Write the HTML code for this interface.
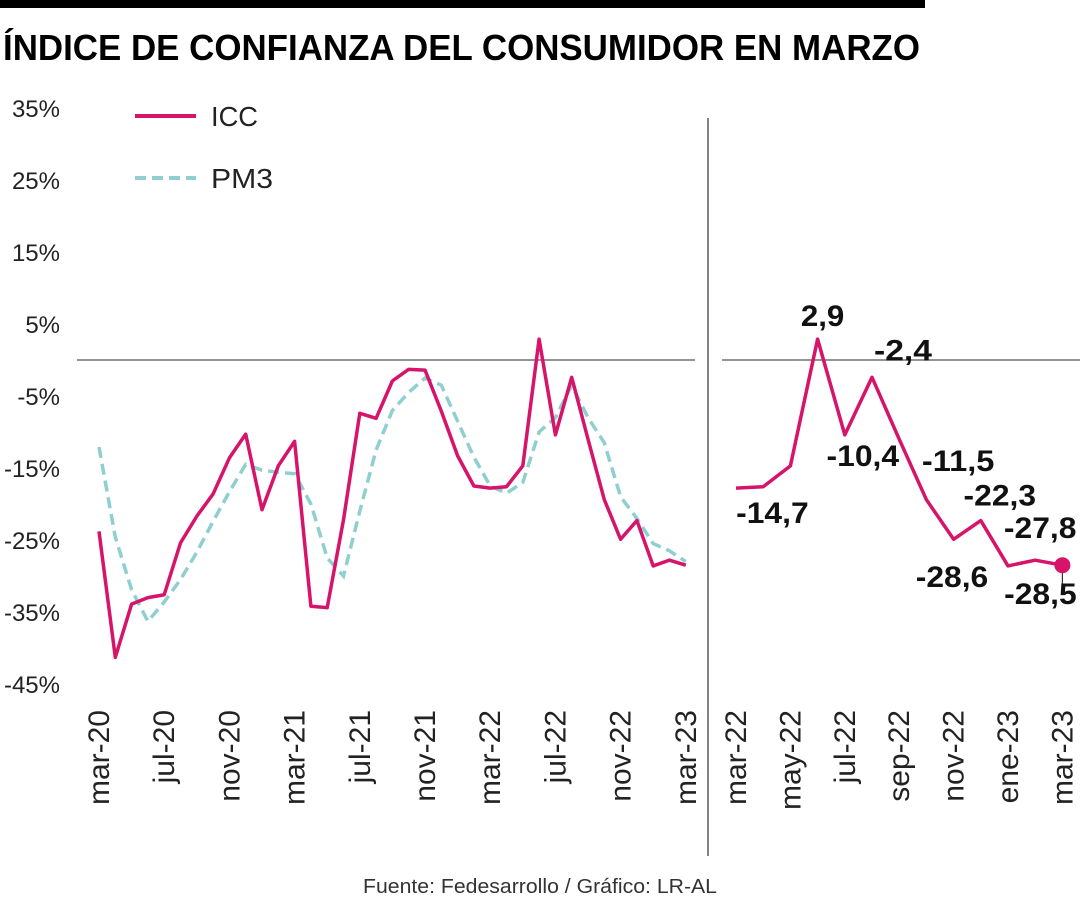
<!DOCTYPE html>
<html><head><meta charset="utf-8"><style>
html,body{margin:0;padding:0;background:#fff;}
svg{display:block;font-family:"Liberation Sans Narrow","Liberation Sans",sans-serif;}
</style></head><body>
<svg id="chart" width="1080" height="900" viewBox="0 0 1080 900">
<rect x="0" y="0" width="925" height="8" fill="#000"/>
<text x="3" y="60" font-size="36" font-weight="bold" textLength="917" lengthAdjust="spacingAndGlyphs" fill="#000">ÍNDICE DE CONFIANZA DEL CONSUMIDOR EN MARZO</text>
<line x1="708" y1="118" x2="708" y2="856" stroke="#333" stroke-width="1.2"/>
<g id="yaxis"></g>
<g id="left"></g>
<g id="right"></g>
<g>
<g>
<line x1="135" y1="116" x2="196" y2="116" stroke="#d6146a" stroke-width="4"/>
<text x="211" y="126" font-size="28" textLength="47" lengthAdjust="spacingAndGlyphs" fill="#222">ICC</text></g>
<g>
<line x1="135" y1="178" x2="196" y2="178" stroke="#8fcfd0" stroke-width="4" stroke-dasharray="11,6"/>
<text x="211" y="188" font-size="28" textLength="62" lengthAdjust="spacingAndGlyphs" fill="#222">PM3</text></g>
</g>
<text x="540" y="893" text-anchor="middle" font-size="20" textLength="354" lengthAdjust="spacingAndGlyphs" fill="#333">Fuente: Fedesarrollo / Gráfico: LR-AL</text>
</svg>
<script>
const yTicks = [35,25,15,5,-5,-15,-25,-35,-45];
const monthsLeft = ["mar-20","abr-20","may-20","jun-20","jul-20","ago-20","sep-20","oct-20","nov-20","dic-20","ene-21","feb-21","mar-21","abr-21","may-21","jun-21","jul-21","ago-21","sep-21","oct-21","nov-21","dic-21","ene-22","feb-22","mar-22","abr-22","may-22","jun-22","jul-22","ago-22","sep-22","oct-22","nov-22","dic-22","ene-23","feb-23","mar-23"];
const leftTickLabels = ["mar-20","jul-20","nov-20","mar-21","jul-21","nov-21","mar-22","jul-22","nov-22","mar-23"];
const icc = [-23.8,-41.3,-33.9,-33.0,-32.6,-25.4,-21.7,-18.6,-13.6,-10.3,-20.8,-14.7,-11.3,-34.2,-34.4,-22.2,-7.4,-8.1,-2.9,-1.3,-1.4,-7.1,-13.3,-17.5,-17.8,-17.6,-14.7,2.9,-10.4,-2.4,-11.0,-19.4,-24.9,-22.3,-28.6,-27.8,-28.5];
const pm3 = [-12.1,-24.6,-31.9,-36.3,-33.6,-30.5,-26.7,-22.4,-18.3,-14.5,-15.3,-15.6,-15.8,-20.0,-27.5,-30.0,-21.0,-12.5,-7.0,-4.5,-2.5,-3.5,-8.5,-13.5,-17.5,-18.5,-17.0,-10.0,-8.0,-3.5,-8.0,-11.5,-19.0,-22.0,-25.5,-26.5,-28.0];
const rightTickLabels = ["mar-22","may-22","jul-22","sep-22","nov-22","ene-23","mar-23"];
const rightLabelText = ["","","-14,7","2,9","-10,4","-2,4","-11,5","","","-22,3","-28,6","-27,8","-28,5"];

const NS="http://www.w3.org/2000/svg";
function mk(tag,attrs,parent,txt){const e=document.createElementNS(NS,tag);for(const k in attrs)e.setAttribute(k,attrs[k]);if(txt!==undefined)e.textContent=txt;parent.appendChild(e);return e;}
const y=v=>360-v*7.2;
const xL=i=>99+i*16.3;
const xR=i=>736+i*27.2;
const yaxis=document.getElementById('yaxis'),L=document.getElementById('left'),R=document.getElementById('right');

yTicks.forEach(t=>{
  const s=t+'%';
  const e=mk('text',{x:60,y:y(t)+9,'text-anchor':'end','font-size':24,fill:'#222'},yaxis,s);
  
  
});
const z1=mk('line',{x1:77,y1:y(0),x2:695,y2:y(0),stroke:'#555','stroke-width':1.2},L);


const z2=mk('line',{x1:722,y1:y(0),x2:1080,y2:y(0),stroke:'#555','stroke-width':1.2},R);



leftTickLabels.forEach(lbl=>{
  const i=monthsLeft.indexOf(lbl);
  const e=mk('text',{x:0,y:0,'text-anchor':'end','font-size':30,fill:'#222',transform:`translate(${xL(i)+10},710) rotate(-90)`},L,lbl);
  
  
});
const pm=mk('polyline',{points:pm3.map((v,i)=>xL(i)+','+y(v)).join(' '),fill:'none',stroke:'#8fcfd0','stroke-width':3.5,'stroke-dasharray':'11,6'},L);


const il=mk('polyline',{points:icc.map((v,i)=>xL(i)+','+y(v)).join(' '),fill:'none',stroke:'#d6146a','stroke-width':3.5,'stroke-linejoin':'round'},L);



const start=monthsLeft.indexOf("mar-22");
const rIcc=icc.slice(start);
const rMonths=monthsLeft.slice(start);
rightTickLabels.forEach(lbl=>{
  const i=rMonths.indexOf(lbl);
  const e=mk('text',{x:0,y:0,'text-anchor':'end','font-size':30,fill:'#222',transform:`translate(${xR(i)+10},710) rotate(-90)`},R,lbl);
  
  
});
const rl=mk('polyline',{points:rIcc.map((v,i)=>xR(i)+','+y(v)).join(' '),fill:'none',stroke:'#d6146a','stroke-width':3.5,'stroke-linejoin':'round'},R);


const last=rIcc.length-1;
const ld=mk('line',{x1:xR(last),y1:y(rIcc[last]),x2:xR(last),y2:y(rIcc[last])+26,stroke:'#333','stroke-width':1.2},R);


const dot=mk('circle',{cx:xR(last),cy:y(rIcc[last]),r:8,fill:'#d6146a'},R);


const offs={2:[-18,57],3:[5,-13],4:[18,31],5:[31,-17],6:[59,32],9:[19,-15],10:[-56,21],11:[5,-22],12:[-22,39]};
rightLabelText.forEach((t,i)=>{
  if(!t)return;
  const o=offs[i]||[0,-15];
  const e=mk('text',{x:xR(i)+o[0],y:y(rIcc[i])+o[1],'text-anchor':'middle','font-size':30,'font-weight':'bold',textLength:t.length*14.5,lengthAdjust:'spacingAndGlyphs',fill:'#111'},R,t);
  
  
});
</script>
</body></html>
